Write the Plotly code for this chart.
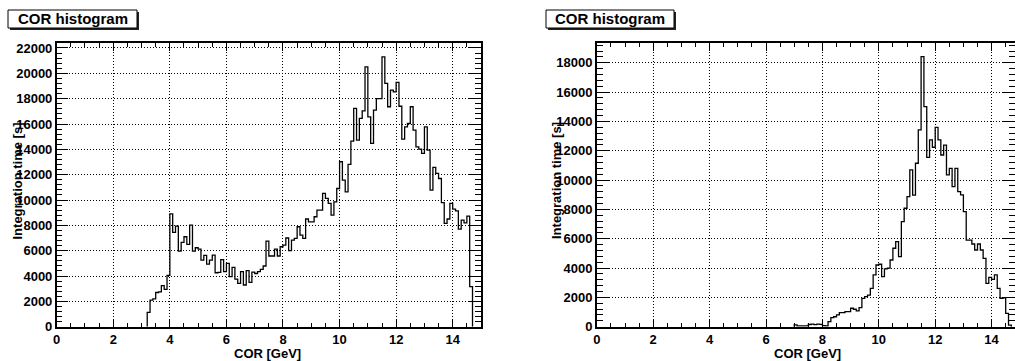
import numpy as np
import plotly.graph_objects as go

W, H = 1015, 361
FONT = "Liberation Sans"

# ---- data: integration time per 0.1 GeV COR bin ----
BIN_WIDTH = 0.1

left_start = 3.2
left_values = [
    1130, 2100, 2200, 2700, 2750, 3250, 2950, 4050,            # 3.2 - 3.9
    8900, 7450, 7940, 5970, 6650, 7100, 6500, 8020, 5970, 6230,  # 4.0 - 4.9
    6130, 5260, 5630, 4940, 5260, 5650, 4260, 4290, 5300, 4340,  # 5.0 - 5.9
    5000, 3950, 4680, 3760, 3420, 4340, 3290, 4420, 3500, 4300,  # 6.0 - 6.9
    4200, 4340, 4520, 4790, 6760, 5580, 5580, 6130, 5580, 6310,  # 7.0 - 7.9
    6440, 7000, 6000, 6840, 6970, 7890, 7230, 6970, 8500, 8280,  # 8.0 - 8.9
    8280, 8680, 9200, 9200, 10520, 10130, 9730, 8810, 9860, 10910,  # 9.0 - 9.9
    13020, 11570, 10650, 12810, 14650, 17230, 14730, 16440, 17040, 20510,  # 10.0 - 10.9
    16570, 14470, 17100, 18000, 18000, 21300, 19200, 17360, 18670, 18540,  # 11.0 - 11.9
    19280, 17400, 14800, 15780, 16040, 17360, 15520, 14200, 14020, 13680,  # 12.0 - 12.9
    15780, 13940, 10780, 12570, 12100, 11700, 9800, 8150, 8500, 9730,  # 13.0 - 13.9
    9280, 9150, 7700, 8420, 8200, 8730, 3160,                  # 14.0 - 14.6
]

right_start = 7.0
right_values = [
    120, 60, 60, 50, 60, 150, 170, 140, 170, 160,              # 7.0 - 7.9
    80, 60, 340, 620, 680, 800, 960, 960, 1030, 1030,          # 8.0 - 8.9
    1260, 1190, 1080, 1300, 1930, 2050, 2160, 2620, 3530, 4210,  # 9.0 - 9.9
    4260, 3410, 3940, 3990, 4550, 5350, 5800, 4780, 7170, 8080,  # 10.0 - 10.9
    8870, 10690, 8980, 11150, 13420, 18420, 15010, 11550, 12740, 12240,  # 11.0 - 11.9
    13600, 12740, 11710, 12390, 10350, 10800, 9550, 10800, 9210, 8990,  # 12.0 - 12.9
    7850, 5910, 5910, 5640, 5230, 5640, 5230, 4660, 2960, 3370,  # 13.0 - 13.9
    3230, 3530, 2620, 1940, 1960, 910, 110,                    # 14.0 - 14.6
]

title_text = "COR histogram"
x_title = "COR [GeV]"
y_title = "Integration time [s]"


def px(x):
    return x / W


def py(y):
    return 1 - y / H


def step_outline(start, values):
    """Outline of a histogram: points for an 'hv' step line."""
    n = len(values)
    edges = start + BIN_WIDTH * np.arange(n + 1)
    xs = np.concatenate([[edges[0]], edges[:-1], [edges[-1]]])
    ys = np.concatenate([[0], values, [0]])
    return xs, ys


fig = go.Figure()

for (start, vals, xa, ya) in [(left_start, left_values, "x", "y"),
                              (right_start, right_values, "x2", "y2")]:
    xs, ys = step_outline(start, vals)
    fig.add_trace(go.Scatter(
        x=xs, y=ys, mode="lines",
        line=dict(color="black", width=1.3, shape="hv"),
        xaxis=xa, yaxis=ya, showlegend=False, hoverinfo="skip",
    ))

tickfont = dict(family=FONT, size=13, color="black", weight="bold")
common = dict(
    showline=True, linecolor="black", linewidth=1.5, mirror="ticks",
    ticks="inside", tickcolor="black", tickwidth=1,
    showgrid=True, gridcolor="black", gridwidth=1, griddash="1px,2px",
    zeroline=False, tickfont=tickfont, automargin=False, fixedrange=True,
    tickformat="d", exponentformat="none", separatethousands=False,
)

y_dom = [py(326.7), py(43.3)]

fig.update_layout(
    width=W, height=H,
    margin=dict(l=0, r=0, t=0, b=0),
    paper_bgcolor="white", plot_bgcolor="white",
    xaxis=dict(domain=[px(56.7), px(481.0)], range=[0, 15], anchor="y",
               tick0=0, dtick=2, ticklen=8,
               minor=dict(dtick=0.5, ticklen=4, ticks="inside", tickcolor="black"),
               **common),
    yaxis=dict(domain=y_dom, range=[0, 22370], anchor="x",
               tick0=0, dtick=2000, ticklen=12,
               minor=dict(dtick=400, ticklen=6, ticks="inside", tickcolor="black"),
               **common),
    xaxis2=dict(domain=[px(596.8), 1.0], range=[0, (W - 596.8) / 28.2], anchor="y2",
                tick0=0, dtick=2, ticklen=8,
                minor=dict(dtick=0.5, ticklen=4, ticks="inside", tickcolor="black"),
                **common),
    yaxis2=dict(domain=y_dom, range=[0, 19330], anchor="x2",
                tick0=0, dtick=2000, ticklen=12,
                minor=dict(dtick=400, ticklen=6, ticks="inside", tickcolor="black"),
                **common),
)

shapes = []
annotations = []
title_font = dict(family=FONT, size=15, color="black", weight="bold")
label_font = dict(family=FONT, size=13, color="black", weight="bold")

# title boxes with drop shadow
for (x0, x1) in [(8, 137), (546, 674)]:
    y0, y1 = 10, 28
    shapes.append(dict(type="rect", xref="paper", yref="paper",
                       x0=px(x0 + 2), x1=px(x1 + 2), y0=py(y1 + 2), y1=py(y0 + 2),
                       fillcolor="#222", line=dict(width=0), layer="above"))
    shapes.append(dict(type="rect", xref="paper", yref="paper",
                       x0=px(x0), x1=px(x1), y0=py(y1), y1=py(y0),
                       fillcolor="white", line=dict(color="black", width=1), layer="above"))
    annotations.append(dict(xref="paper", yref="paper", x=px((x0 + x1) / 2), y=py((y0 + y1) / 2),
                            text=title_text, showarrow=False, font=title_font,
                            xanchor="center", yanchor="middle"))

# axis titles
for cx in (267.5, 807.5):
    annotations.append(dict(xref="paper", yref="paper", x=px(cx), y=py(353),
                            text=x_title, showarrow=False, font=label_font,
                            xanchor="center", yanchor="middle"))
for cx in (16.5, 556):
    annotations.append(dict(xref="paper", yref="paper", x=px(cx), y=py(181),
                            text=y_title, showarrow=False, font=label_font, textangle=-90,
                            xanchor="center", yanchor="middle"))

fig.update_layout(shapes=shapes, annotations=annotations)

fig.write_html("out.html")
